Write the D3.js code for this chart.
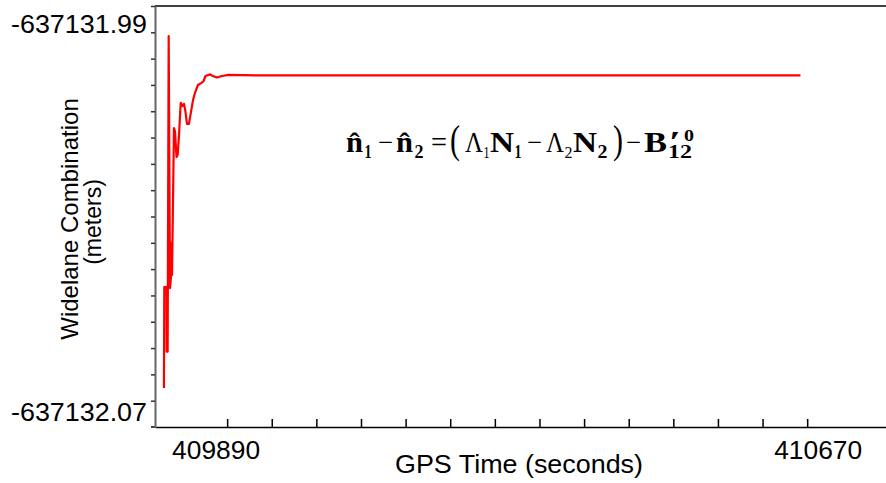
<!DOCTYPE html>
<html>
<head>
<meta charset="utf-8">
<script src="https://cdn.jsdelivr.net/npm/d3@7"></script>
<style>
  html, body { margin: 0; padding: 0; background: #fff; }
  svg { display: block; }
  .sans { font-family: "Liberation Sans", Arial, sans-serif; }
  .serif { font-family: "Liberation Serif", "Times New Roman", serif; }
</style>
</head>
<body>
<svg id="chart" width="886" height="483"></svg>
<script>
// ---- data ----
const gpsTime = [409805, 409805.5, 409808.5, 409808.7, 409810, 409811.4, 409813.2, 409814.5,
  409815.2, 409815.9, 409818.5, 409819.9, 409821.9, 409823.5, 409825.3, 409827.6, 409830,
  409832, 409834, 409836, 409838.7, 409840.7, 409844.1, 409846.8, 409850.8, 409855.5,
  409858.2, 409860.9, 409867, 409871, 409876.4, 409883, 409892, 409935, 410100, 410300,
  410500, 410661];
const widelane = [-637132.0626, -637132.0434, -637132.0434, -637132.0557, -637132.0557,
  -637131.9957, -637132.0436, -637132.0415, -637132.0350, -637132.0411, -637132.0132,
  -637132.0138, -637132.0187, -637132.0183, -637132.0145, -637132.0084, -637132.0090,
  -637132.0086, -637132.0101, -637132.0124, -637132.0124, -637132.0107, -637132.0079,
  -637132.0065, -637132.0050, -637132.0046, -637132.0043, -637132.0033, -637132.0030,
  -637132.0033, -637132.0036, -637132.0033, -637132.0031, -637132.0032, -637132.0032,
  -637132.0032, -637132.0032, -637132.0032];

const xDomain = [409793, 410776];
const yDomain = [-637132.07, -637131.99];
const xTickValues = d3.range(409890, 410671, 60);
const xTickLabels = [409890, 410670];
const yTickValues = d3.range(16).map(k => -637131.99 - k * 0.005);
const yTickLabels = ["-637131.99", "-637132.07"];

// ---- scales ----
const svg = d3.select("#chart");
const x = d3.scaleLinear().domain(xDomain).range([155, 886]);
const y = d3.scaleLinear().domain(yDomain).range([427, 6]);

// top border
svg.append("line").attr("x1", x.range()[0]).attr("x2", x.range()[1])
  .attr("y1", y(yDomain[1])).attr("y2", y(yDomain[1]))
  .attr("stroke", "#000").attr("stroke-width", 1.5);

// x axis
const gx = svg.append("g").attr("transform", `translate(0,${y(yDomain[0])})`)
  .call(d3.axisBottom(x).tickValues(xTickValues).tickSize(-8).tickSizeOuter(0).tickFormat(""));
gx.select(".domain").attr("stroke", "#000").attr("stroke-width", 1.5);
gx.selectAll(".tick line").attr("stroke", "#000").attr("stroke-width", 1.5);
svg.append("line").attr("x1", x.range()[0] - 4).attr("x2", x.range()[0])
  .attr("y1", y(yDomain[0])).attr("y2", y(yDomain[0]))
  .attr("stroke", "#000").attr("stroke-width", 1.5);

// y axis
const gy = svg.append("g").attr("transform", `translate(${x.range()[0]},0)`)
  .call(d3.axisLeft(y).tickValues(yTickValues).tickSize(4).tickSizeOuter(0).tickFormat(""));
gy.select(".domain").attr("stroke", "#666").attr("stroke-width", 2);
gy.selectAll(".tick line").attr("stroke", "#333").attr("stroke-width", 1.5);

// x tick labels
svg.selectAll("text.xl").data(xTickLabels).join("text")
  .attr("class", "xl sans")
  .attr("x", (d, i) => x(d) + (i === 0 ? -11 : 11))
  .attr("y", y(yDomain[0]) + 32)
  .attr("text-anchor", "middle").attr("font-size", 25).attr("fill", "#000")
  .attr("textLength", 88).attr("lengthAdjust", "spacingAndGlyphs")
  .text(d => d);

// y tick labels (placed inside axis extent)
svg.append("text").attr("class", "sans")
  .attr("x", 147).attr("y", y(yDomain[1]) + 27.3)
  .attr("text-anchor", "end").attr("font-size", 25)
  .attr("textLength", 136).attr("lengthAdjust", "spacingAndGlyphs")
  .text(yTickLabels[0]);
svg.append("text").attr("class", "sans")
  .attr("x", 147).attr("y", y(yDomain[0]) - 6.3)
  .attr("text-anchor", "end").attr("font-size", 25)
  .attr("textLength", 136).attr("lengthAdjust", "spacingAndGlyphs")
  .text(yTickLabels[1]);

// axis titles
svg.append("text").attr("class", "sans")
  .attr("x", 519).attr("y", 473)
  .attr("text-anchor", "middle").attr("font-size", 25)
  .attr("textLength", 248).attr("lengthAdjust", "spacingAndGlyphs")
  .text("GPS Time (seconds)");
svg.append("text").attr("class", "sans")
  .attr("transform", "translate(78,219) rotate(-90)")
  .attr("text-anchor", "middle").attr("font-size", 24)
  .text("Widelane Combination");
svg.append("text").attr("class", "sans")
  .attr("transform", "translate(101,222) rotate(-90)")
  .attr("text-anchor", "middle").attr("font-size", 23)
  .text("(meters)");

// data line
const pts = gpsTime.map((t, i) => [t, widelane[i]]);
svg.append("path").datum(pts)
  .attr("fill", "none").attr("stroke", "#ff0000").attr("stroke-width", 2.2)
  .attr("stroke-linejoin", "round")
  .attr("d", d3.line().x(d => x(d[0])).y(d => y(d[1])));

// equation annotation
const eq = [
  { t: "n\u0302", x: 346, y: 152, s: 29, w: "bold", L: 17 },
  { t: "1", x: 364.5, y: 158, s: 18, w: "bold", L: 7 },
  { t: "\u2212", x: 378, y: 152, s: 29, w: "normal", L: 15 },
  { t: "n\u0302", x: 396, y: 152, s: 29, w: "bold", L: 17 },
  { t: "2", x: 414.5, y: 158, s: 18, w: "bold", L: 9 },
  { t: "=", x: 431, y: 152, s: 29, w: "normal", L: 16 },
  { t: "(", x: 450, y: 153, s: 40, w: "normal", L: 10 },
  { t: "\u039B", x: 465, y: 152, s: 29, w: "normal", L: 18 },
  { t: "1", x: 483.5, y: 158, s: 17, w: "normal", L: 6 },
  { t: "N", x: 490, y: 152, s: 29, w: "bold", L: 24 },
  { t: "1", x: 514.5, y: 158, s: 18, w: "bold", L: 7 },
  { t: "\u2212", x: 527, y: 152, s: 29, w: "normal", L: 15 },
  { t: "\u039B", x: 546, y: 152, s: 29, w: "normal", L: 18 },
  { t: "2", x: 564.5, y: 158, s: 17, w: "normal", L: 8 },
  { t: "N", x: 573, y: 152, s: 29, w: "bold", L: 24 },
  { t: "2", x: 597.5, y: 158, s: 18, w: "bold", L: 10 },
  { t: ")", x: 613, y: 153, s: 40, w: "normal", L: 10 },
  { t: "\u2212", x: 626, y: 152, s: 29, w: "normal", L: 15 },
  { t: "B", x: 644, y: 152, s: 29, w: "bold", L: 23 },
  { t: "\u2032", x: 669, y: 151, s: 30, w: "bold", L: 12 },
  { t: "0", x: 684, y: 141, s: 17, w: "bold", L: 10 },
  { t: "12", x: 668, y: 158, s: 18, w: "bold", L: 24 }
];
svg.append("g").selectAll("text").data(eq).join("text")
  .attr("class", "serif")
  .attr("x", d => d.x).attr("y", d => d.y)
  .attr("font-size", d => d.s).attr("font-weight", d => d.w)
  .attr("textLength", d => d.L).attr("lengthAdjust", "spacingAndGlyphs")
  .attr("fill", "#000")
  .text(d => d.t);
</script>
</body>
</html>
